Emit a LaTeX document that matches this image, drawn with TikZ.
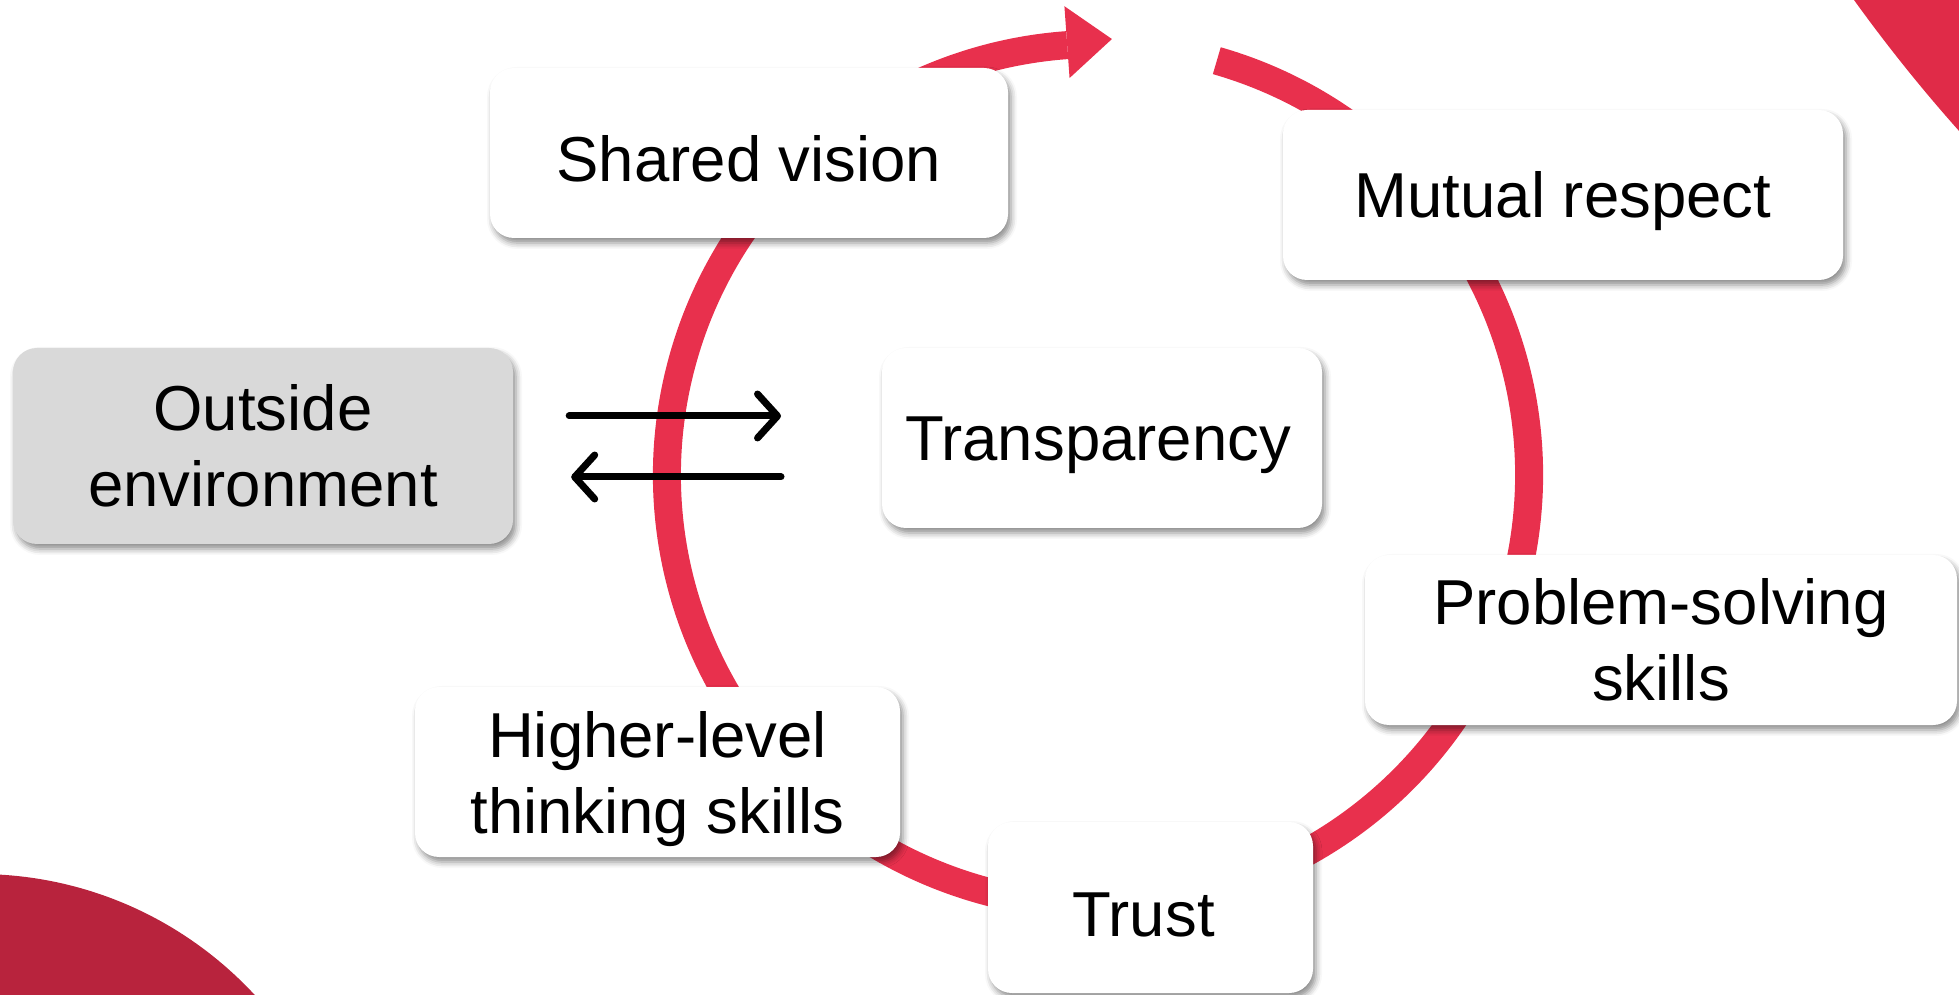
\documentclass[tikz,border=0pt]{standalone}
\usepackage{fontspec}
\setmainfont{Liberation Sans}
\usetikzlibrary{arrows.meta,shadows.blur}

\definecolor{ringred}{HTML}{E8304D}
\definecolor{cornerred}{HTML}{E02B48}
\definecolor{darkred}{HTML}{B8233D}
\definecolor{boxgray}{HTML}{D9D9D9}

\tikzset{
  card/.style={rectangle, rounded corners=24pt, fill=white, inner sep=0pt,
    align=center, font=\fontsize{63.5}{76}\selectfont,
    execute at begin node={\rule{0pt}{58pt}},
    blur shadow={shadow xshift=3pt, shadow yshift=-5pt,
      shadow blur radius=6pt, shadow opacity=45}},
  flow/.style={line width=7pt, line cap=round, line join=round,
    -{Straight Barb[length=20pt,width=44pt,round]}},
}

\begin{document}
\begin{tikzpicture}[x=1pt,y=1pt]
  \useasboundingbox (0,0) rectangle (1959,994);
  \clip (0,0) rectangle (1959,994);

  % decorative corner discs
  \fill[cornerred] (3167,1938) circle[radius=1617];
  \fill[darkred] (-22,-257) circle[radius=377];

  % cycle ring with arrowhead
  \coordinate (c) at (1098,519);
  \draw[ringred, line width=28pt] ([shift={(74:431)}]c)
    arc[start angle=74, end angle=-265.9, radius=431];
  \fill[ringred, shift={(c)}] (94.1:470) -- (88.17:436.2) -- (94.1:398) -- cycle;

  % stages
  \node[card, minimum width=518pt, minimum height=170pt] (sv) at (749,841) {Shared vision};
  \node[card, minimum width=560pt, minimum height=170pt] (mr) at (1563,799) {Mutual respect};
  \node[card, minimum width=440pt, minimum height=180pt] (tr) at (1102,556) {Transparency\hspace{8pt}};
  \node[card, minimum width=592pt, minimum height=170pt] (ps) at (1661,354) {Problem-solving\\skills};
  \node[card, minimum width=485pt, minimum height=170pt] (hl) at (657.5,222) {\rule{0pt}{60pt}Higher-level\\thinking skills};
  \node[card, minimum width=325pt, minimum height=171pt] (tu) at (1150.5,86.5) {Trust\hspace{14pt}};
  \node[card, fill=boxgray, minimum width=500pt, minimum height=196pt] (oe) at (263,548) {Outside\\environment};

  % exchange with the outside environment
  \coordinate (inR) at (781,578);
  \coordinate (outR) at (781,517);
  \draw[flow] (oe.east |- inR) ++(56,0) coordinate (inL) -- (inR);
  \draw[flow] (outR) -- ([xshift=58pt]oe.east |- outR);
\end{tikzpicture}
\end{document}
